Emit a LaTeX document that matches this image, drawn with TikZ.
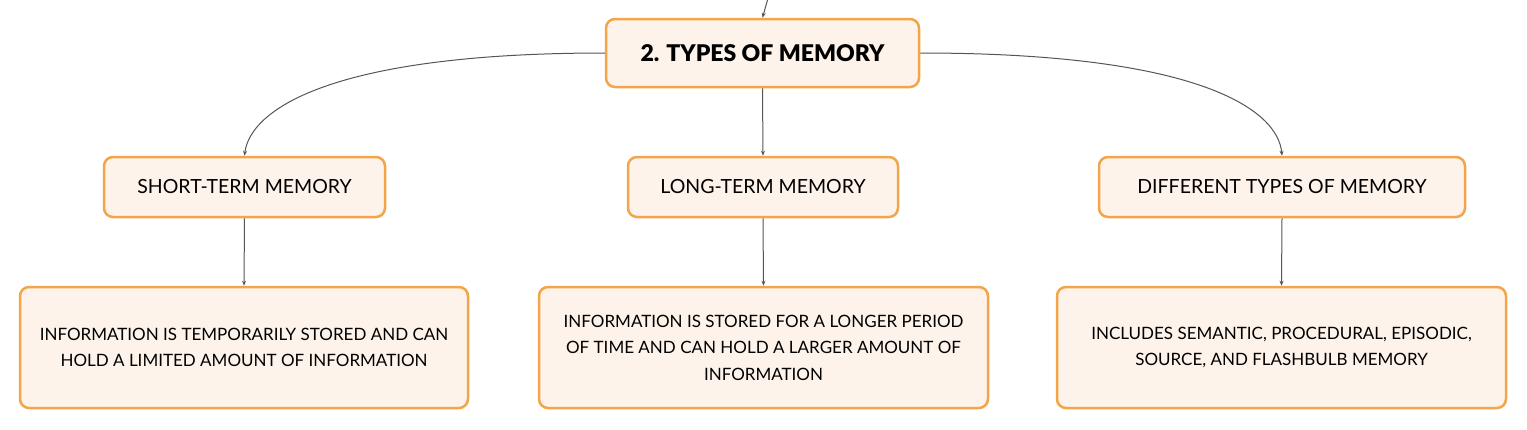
\documentclass[tikz,border=0pt]{standalone}
\usepackage{fontspec}
\setmainfont{Lato}[BoldFont={Lato Black}]
\usetikzlibrary{arrows.meta}
\definecolor{boxedge}{HTML}{F2A54A}
\definecolor{boxfill}{HTML}{FDF3EA}
\definecolor{linec}{HTML}{555555}
\tikzset{
  box/.style={draw=boxedge, fill=boxfill, line width=2.5pt, rounded corners=9pt, align=center, inner sep=0pt, text=black},
  conn/.style={draw=linec, line width=1pt, -{Stealth[length=5pt,width=4pt]}},
  midtext/.style={font=\fontsize{19.5}{23}\selectfont},
  lowtext/.style={font=\fontsize{17}{26.5}\selectfont},
}
\begin{document}
\begin{tikzpicture}[x=1pt,y=-1pt]
\useasboundingbox (0,0) rectangle (1527,429);
\node[box, minimum width=313pt, minimum height=68pt, font=\fontsize{23}{27}\selectfont\bfseries] (top) at (762.5,53) {2. TYPES OF MEMORY};
\node[box, minimum width=281pt, minimum height=60pt, midtext] (st) at (244.5,187) {SHORT-TERM MEMORY};
\node[box, minimum width=270pt, minimum height=60pt, midtext] (lt) at (763,187) {LONG-TERM MEMORY};
\node[box, minimum width=366pt, minimum height=60pt, midtext] (dt) at (1282,187) {DIFFERENT TYPES OF MEMORY};
\node[box, minimum width=448pt, minimum height=121pt, lowtext] (stb) at (244,347.5) {INFORMATION IS TEMPORARILY STORED AND CAN\\HOLD A LIMITED AMOUNT OF INFORMATION};
\node[box, minimum width=449pt, minimum height=121pt, lowtext] (ltb) at (763.5,347.5) {INFORMATION IS STORED FOR A LONGER PERIOD\\OF TIME AND CAN HOLD A LARGER AMOUNT OF\\INFORMATION};
\node[box, minimum width=449pt, minimum height=121pt, lowtext] (dtb) at (1281.5,347.5) {INCLUDES SEMANTIC, PROCEDURAL, EPISODIC,\\SOURCE, AND FLASHBULB MEMORY};
\coordinate (in) at (767.5,0);
\draw[conn] (in) -- (top.north);
\draw[conn] (top.west) .. controls (330,53) and (250,110) .. (st.north);
\draw[conn] (top.east) .. controls (1200,53) and (1278,110) .. (dt.north);
\draw[conn] (top.south) -- (lt.north);
\draw[conn] (st.south) -- (stb.north);
\draw[conn] (lt.south) -- (ltb.north);
\draw[conn] (dt.south) -- (dtb.north);
\end{tikzpicture}
\end{document}
